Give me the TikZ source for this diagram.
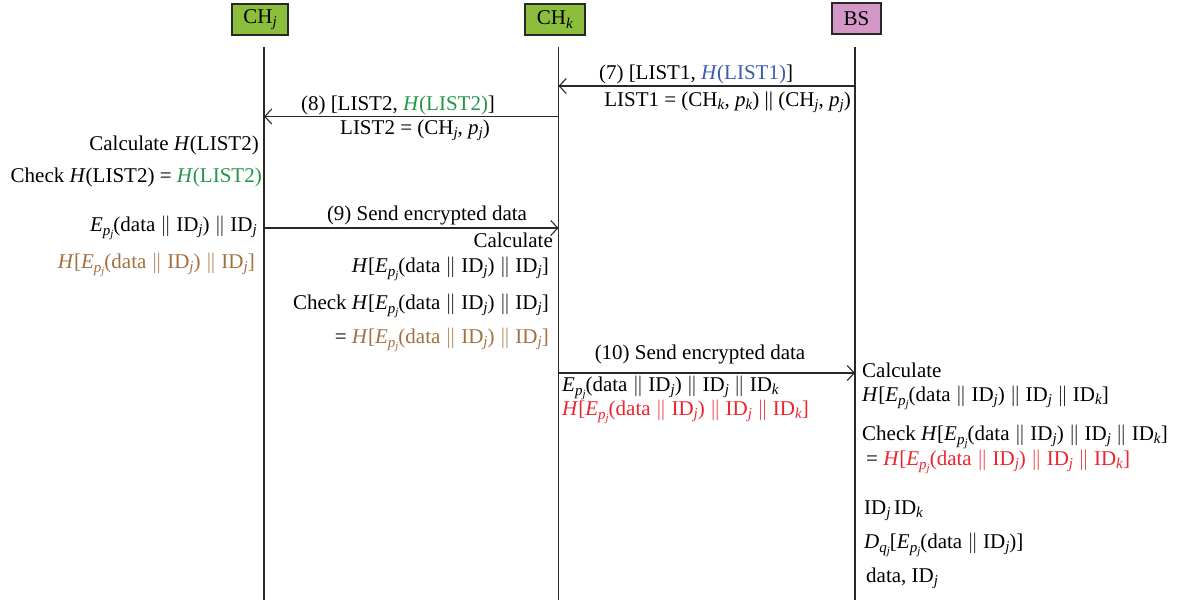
\documentclass[tikz,border=0pt]{standalone}
\usepackage{fontspec}
\setmainfont{Liberation Serif}
\usetikzlibrary{arrows.meta}
\newcommand\Sb[1]{\raisebox{-0.17em}{\fontsize{15}{15}\selectfont\textit{#1}}}
\newcommand\Ep{\textit{E}\raisebox{-0.2em}{\fontsize{15}{15}\selectfont\textit{p}\raisebox{-0.14em}{\fontsize{11}{11}\selectfont\textit{j}}}}
\newcommand\Dq{\textit{D}\raisebox{-0.2em}{\fontsize{15}{15}\selectfont\textit{q}\raisebox{-0.14em}{\fontsize{11}{11}\selectfont\textit{j}}}}
\newcommand\dbar{\ensuremath{\|}}
\newcommand\IDj{ID\Sb{j}}
\newcommand\IDk{ID\Sb{k}}
\definecolor{hdrgreen}{RGB}{140,190,62}
\definecolor{hdrpink}{RGB}{212,152,200}
\definecolor{hblue}{RGB}{58,92,172}
\definecolor{hgreen}{RGB}{36,150,72}
\definecolor{hbrown}{RGB}{162,112,62}
\definecolor{hred}{RGB}{236,36,44}
\definecolor{lline}{RGB}{40,40,40}
\tikzset{
  txt/.style={inner sep=0pt, font=\fontsize{21}{24}\selectfont},
  hdr/.style={draw=lline, line width=1.3pt, inner sep=0pt, minimum height=31pt, font=\fontsize{21}{24}\selectfont},
  life/.style={draw=lline, line width=1.5pt},
  msg/.style={draw=lline, line width=1.3pt, -{Straight Barb[length=7pt,width=15pt,line width=1.1pt]}}
}
\begin{document}
\begin{tikzpicture}[x=1pt,y=-1pt]
\useasboundingbox (0,0) rectangle (1202,600);
% headers
\node[hdr, fill=hdrgreen, minimum width=56pt] (hj) at (260,19.5) {CH\Sb{j}};
\node[hdr, fill=hdrgreen, minimum width=60pt] (hk) at (555,19.5) {CH\Sb{k}};
\node[hdr, fill=hdrpink, minimum width=49pt] (hb) at (856.5,18.5) {BS};
% lifelines
\coordinate (jt) at (264,47); \coordinate (jb) at (264,600);
\coordinate (kt) at (558.5,47); \coordinate (kb) at (558.5,600);
\coordinate (bt) at (855,47); \coordinate (bb) at (855,600);
\draw[life] (jt) -- (jb);
\draw[life] (kt) -- (kb);
\draw[life] (bt) -- (bb);
% message points
\coordinate (m7b) at (855,86); \coordinate (m7k) at (558.5,86);
\coordinate (m8k) at (558.5,116.5); \coordinate (m8j) at (264,116.5);
\coordinate (m9j) at (264,228); \coordinate (m9k) at (558.5,228);
\coordinate (m10k) at (558.5,373); \coordinate (m10b) at (855,373);
\draw[msg] (m7b) -- (m7k);
\draw[msg] (m8k) -- (m8j);
\draw[msg] (m9j) -- (m9k);
\draw[msg] (m10k) -- (m10b);
% message 7
\node[txt, anchor=base] (t7a) at (696,79) {(7) [LIST1, {\color{hblue}\textit{H}(LIST1)}]};
\node[txt, anchor=base east] (t7b) at (851,106) {LIST1 = (CH\Sb{k}, \textit{p}\Sb{k}) || (CH\Sb{j}, \textit{p}\Sb{j})};
% message 8
\node[txt, anchor=base] (t8a) at (398,110) {(8) [LIST2, {\color{hgreen}\textit{H}(LIST2)}]};
\node[txt, anchor=base] (t8b) at (415,134) {LIST2 = (CH\Sb{j}, \textit{p}\Sb{j})};
% CH_j side
\node[txt, anchor=base east] (cj1) at (259,150) {Calculate \textit{H}(LIST2)};
\node[txt, anchor=base east] (cj2) at (262,182) {Check \textit{H}(LIST2) = {\color{hgreen}\textit{H}(LIST2)}};
\node[txt, anchor=base east] (cj3) at (257,231) {\Ep(data \dbar{} \IDj) \dbar{} \IDj};
\node[txt, anchor=base east, text=hbrown] (cj4) at (255,268) {\textit{H}[\Ep(data \dbar{} \IDj) \dbar{} \IDj]};
% message 9
\node[txt, anchor=base] (t9) at (427,220) {(9) Send encrypted data};
% CH_k side
\node[txt, anchor=base east] (ck1) at (553,247) {Calculate};
\node[txt, anchor=base east] (ck2) at (549,272) {\textit{H}[\Ep(data \dbar{} \IDj) \dbar{} \IDj]};
\node[txt, anchor=base east] (ck3) at (549,309) {Check \textit{H}[\Ep(data \dbar{} \IDj) \dbar{} \IDj]};
\node[txt, anchor=base east] (ck4) at (549,343) {= {\color{hbrown}\textit{H}[\Ep(data \dbar{} \IDj) \dbar{} \IDj]}};
% message 10
\node[txt, anchor=base] (t10) at (700,359) {(10) Send encrypted data};
\node[txt, anchor=base west] (t10b) at (562,391) {\Ep(data \dbar{} \IDj) \dbar{} \IDj{} \dbar{} \IDk};
\node[txt, anchor=base west, text=hred] (t10c) at (562,415) {\textit{H}[\Ep(data \dbar{} \IDj) \dbar{} \IDj{} \dbar{} \IDk]};
% BS side
\node[txt, anchor=base west] (b1) at (862,377) {Calculate};
\node[txt, anchor=base west] (b2) at (862,401) {\textit{H}[\Ep(data \dbar{} \IDj) \dbar{} \IDj{} \dbar{} \IDk]};
\node[txt, anchor=base west] (b3) at (862,440) {Check \textit{H}[\Ep(data \dbar{} \IDj) \dbar{} \IDj{} \dbar{} \IDk]};
\node[txt, anchor=base west] (b4) at (866,465) {= {\color{hred}\textit{H}[\Ep(data \dbar{} \IDj) \dbar{} \IDj{} \dbar{} \IDk]}};
\node[txt, anchor=base west] (b5) at (864,514) {\IDj\,\IDk};
\node[txt, anchor=base west] (b6) at (864,548) {\Dq[\Ep(data \dbar{} \IDj)]};
\node[txt, anchor=base west] (b7) at (866,582) {data, \IDj};
\end{tikzpicture}
\end{document}
